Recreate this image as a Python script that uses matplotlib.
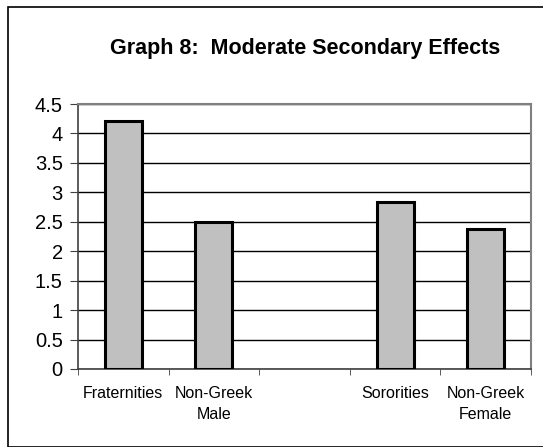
import matplotlib.pyplot as plt
from matplotlib.patches import Rectangle

# Mean scores per group; the blank slot separates male and female groups
categories = ['Fraternities', 'Non-Greek\nMale', '', 'Sororities', 'Non-Greek\nFemale']
values = [4.21, 2.49, None, 2.83, 2.37]
y_ticks = [0, 0.5, 1, 1.5, 2, 2.5, 3, 3.5, 4, 4.5]

W, H = 543, 447
fig = plt.figure(figsize=(W / 100, H / 100), dpi=100)
plt.rcParams['font.family'] = ['Liberation Sans', 'DejaVu Sans']

# outer chart border
fig.patches.append(Rectangle((8 / W, 0), 1, 1 - 7 / H, transform=fig.transFigure,
                             fill=False, edgecolor='black', linewidth=1.2))

ax = fig.add_axes([78 / W, 1 - 369 / H, (531 - 78) / W, (369 - 104) / H])

xs = [i for i, v in enumerate(values) if v is not None]
vs = [v for v in values if v is not None]
ax.bar(xs, vs, width=0.41, color='#c0c0c0', edgecolor='black', linewidth=2.2, zorder=3)

ax.set_xlim(-0.5, len(categories) - 0.5)
ax.set_ylim(0, 4.5)
ax.set_yticks(y_ticks)
ax.set_yticklabels([f'{t:g}' for t in y_ticks], fontsize=14.5)
ax.yaxis.grid(True, color='black', linewidth=1.0, zorder=0)

ax.set_xticks(range(len(categories)))
ax.set_xticklabels(categories, fontsize=11.5, linespacing=1.55)
ax.set_xticks([i - 0.5 for i in range(len(categories) + 1)], minor=True)
ax.tick_params(axis='x', which='major', length=0, pad=12)
ax.tick_params(axis='x', which='minor', length=4, color='#404040')
ax.tick_params(axis='y', length=6, color='#404040', pad=5)

for side in ('top', 'right'):
    ax.spines[side].set_color('#808080')
    ax.spines[side].set_linewidth(1.5)
ax.spines['left'].set_color('#404040')
ax.spines['bottom'].set_color('#404040')
ax.spines['left'].set_linewidth(1.2)
ax.spines['bottom'].set_linewidth(1.2)

fig.text(305 / W, 1 - 54 / H, 'Graph 8:  Moderate Secondary Effects',
         ha='center', va='baseline', fontsize=15.5, fontweight='bold')

fig.savefig('out.png', dpi=100)
